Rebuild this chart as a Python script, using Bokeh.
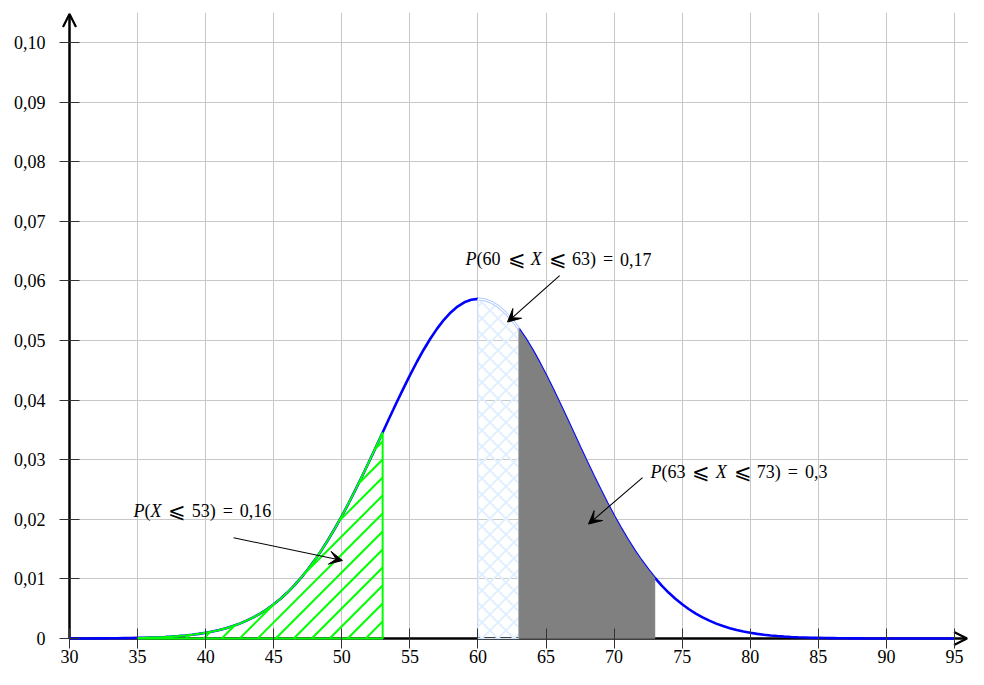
import numpy as np
from bokeh.plotting import figure
from bokeh.models import FixedTicker, Arrow, VeeHead, OpenHead
from bokeh.core.properties import value
from bokeh.embed import file_html
from bokeh.resources import INLINE

# ---- data (x every 0.5 from 30 to 95) ----
x_vals = [30 + 0.5 * i for i in range(131)]
density = [
    0.00000, 0.00000, 0.00001, 0.00001, 0.00002, 0.00002, 0.00003, 0.00004, 0.00006, 0.00008,  # 30-34.5
    0.00010, 0.00012, 0.00016, 0.00020, 0.00026, 0.00033, 0.00041, 0.00051, 0.00063, 0.00078,  # 35-39.5
    0.00096, 0.00118, 0.00143, 0.00173, 0.00209, 0.00250, 0.00299, 0.00354, 0.00418, 0.00491,  # 40-44.5
    0.00574, 0.00667, 0.00771, 0.00887, 0.01016, 0.01157, 0.01311, 0.01478, 0.01658, 0.01850,  # 45-49.5
    0.02054, 0.02269, 0.02494, 0.02727, 0.02966, 0.03210, 0.03457, 0.03703, 0.03947, 0.04185,  # 50-54.5
    0.04416, 0.04635, 0.04841, 0.05029, 0.05199, 0.05347, 0.05471, 0.05570, 0.05641, 0.05684,  # 55-59.5
    0.05699, 0.05684, 0.05641, 0.05570, 0.05471, 0.05347, 0.05199, 0.05029, 0.04841, 0.04635,  # 60-64.5
    0.04416, 0.04185, 0.03947, 0.03703, 0.03457, 0.03210, 0.02966, 0.02727, 0.02494, 0.02269,  # 65-69.5
    0.02054, 0.01850, 0.01658, 0.01478, 0.01311, 0.01157, 0.01016, 0.00887, 0.00771, 0.00667,  # 70-74.5
    0.00574, 0.00491, 0.00418, 0.00354, 0.00299, 0.00250, 0.00209, 0.00173, 0.00143, 0.00118,  # 75-79.5
    0.00096, 0.00078, 0.00063, 0.00051, 0.00041, 0.00033, 0.00026, 0.00020, 0.00016, 0.00012,  # 80-84.5
    0.00010, 0.00008, 0.00006, 0.00004, 0.00003, 0.00002, 0.00002, 0.00001, 0.00001, 0.00000,  # 85-89.5
    0.00000, 0.00000, 0.00000, 0.00000, 0.00000, 0.00000, 0.00000, 0.00000, 0.00000, 0.00000,  # 90-94.5
    0.00000,  # 95
]

x_ticks = [30, 35, 40, 45, 50, 55, 60, 65, 70, 75, 80, 85, 90, 95]
x_tick_labels = ["30", "35", "40", "45", "50", "55", "60", "65", "70", "75", "80", "85", "90", "95"]
y_ticks = [0, 0.01, 0.02, 0.03, 0.04, 0.05, 0.06, 0.07, 0.08, 0.09, 0.10]
y_tick_labels = ["0", "0,01", "0,02", "0,03", "0,04", "0,05", "0,06", "0,07", "0,08", "0,09", "0,10"]

region_low = (35, 53)    # P(X <= 53)
region_mid = (60, 63)    # P(60 <= X <= 63)
region_high = (63, 73)   # P(63 <= X <= 73)

# annotation texts (P and X are set in italics)
label_texts = ["P(60 ⩽ X ⩽ 63) = 0,17", "P(63 ⩽ X ⩽ 73) = 0,3", "P(X ⩽ 53) = 0,16"]
label_x = [59.09, 72.67, 34.70]
label_y = [0.0636, 0.0280, 0.0214]
arrow_start = [(66.0, 0.0609), (72.09, 0.0270), (42.05, 0.0169)]
arrow_end = [(62.17, 0.0531), (68.12, 0.0192), (50.05, 0.0131)]

# ---- layout ----
W, H = 968, 669
AX_LEFT = 69             # pixel of x = 30
AX_ZERO = 638            # pixel of y = 0
Y10 = 42                 # pixel of y = 0.10
TOP = 12
PAD = 8                  # frame extends PAD px past the axes (left / below)
PX_X = 13.615            # pixels per x unit
PX_Y = (AX_ZERO - Y10) / 0.10

X_START = 30 - PAD / PX_X
X_END = 30 + (W - AX_LEFT) / PX_X
Y_START = -PAD / PX_Y
Y_END = (AX_ZERO - TOP) / PX_Y

SERIF = "Liberation Serif"
FS = 18

p = figure(width=W, height=H, output_backend="svg", toolbar_location=None,
           x_range=(X_START, X_END), y_range=(Y_START, Y_END),
           min_border_left=AX_LEFT - PAD, min_border_right=0, min_border_top=TOP,
           min_border_bottom=H - (AX_ZERO + PAD))
p.outline_line_color = None
p.background_fill_color = "white"
p.border_fill_color = "white"

for ax, ticks, labels in ((p.xaxis[0], x_ticks, x_tick_labels), (p.yaxis[0], y_ticks, y_tick_labels)):
    ax.ticker = FixedTicker(ticks=ticks)
    ax.major_label_overrides = dict(zip(ticks, labels))
    ax.axis_line_color = None
    ax.major_tick_line_color = "#333333"
    ax.major_tick_line_width = 1
    ax.major_tick_in = PAD + 10     # ticks cross the drawn axis line by +-10 px
    ax.major_tick_out = 10 - PAD
    ax.minor_tick_line_color = None
    ax.major_label_text_font = SERIF
    ax.major_label_text_font_size = f"{FS}px"
    ax.major_label_text_color = "black"
p.xaxis.major_label_standoff = 1
p.yaxis.major_label_standoff = 14

p.grid.grid_line_color = "#c8c8c8"
p.grid.grid_line_width = 1

# axes with arrow heads (under the curve)
p.add_layout(Arrow(x_start=30, y_start=0, x_end=30, y_end=Y_END - 1.5 / PX_Y, line_width=2.5,
                   line_color="black", level="underlay",
                   end=OpenHead(size=13, line_width=2.2, line_color="black")))
p.add_layout(Arrow(x_start=30, y_start=0, x_end=X_END - 1.5 / PX_X, y_end=0, line_width=2.5,
                   line_color="black", level="underlay",
                   end=OpenHead(size=13, line_width=2.2, line_color="black")))


def pick(a, b):
    xs = [x for x in x_vals if a <= x <= b]
    ys = [density[x_vals.index(x)] for x in xs]
    return xs, ys


def region(a, b):
    xs, ys = pick(a, b)
    return [a] + xs + [b], [0] + ys + [0], xs, ys


def hatch(a, b, sign, spacing_px, phase_x):
    """45-degree (in pixels) hatch lines clipped to the area under the curve on [a, b]."""
    k = PX_X / PX_Y
    step = spacing_px / PX_X
    xs_fine = np.linspace(a, b, 1500)
    top = np.interp(xs_fine, x_vals, density)
    reach = float(top.max()) / k
    lo, hi = (a - reach, b) if sign > 0 else (a, b + reach)
    n0 = int(np.floor((lo - phase_x) / step)) - 1
    n1 = int(np.ceil((hi - phase_x) / step)) + 1
    segx, segy = [], []
    for n in range(n0, n1 + 1):
        x0 = phase_x + n * step
        yl = sign * k * (xs_fine - x0)
        idx = np.flatnonzero((yl >= 0) & (yl <= top))
        if idx.size < 2:
            continue
        breaks = np.flatnonzero(np.diff(idx) > 1)
        starts = np.concatenate(([idx[0]], idx[breaks + 1]))
        ends = np.concatenate((idx[breaks], [idx[-1]]))
        for s, e in zip(starts, ends):
            if e > s:
                segx.append([float(xs_fine[s]), float(xs_fine[e])])
                segy.append([float(yl[s]), float(yl[e])])
    return segx, segy


# blue curve (not drawn over the light-blue band)
xl, yl_ = pick(x_vals[0], region_mid[0])
xr, yr_ = pick(region_mid[1], x_vals[-1])
p.line(xl, yl_, line_color="#0000ff", line_width=2.6)
p.line(xr, yr_, line_color="#0000ff", line_width=2.6)

# green hatched region
gx, gy, _, _ = region(*region_low)
hx_, hy_ = hatch(region_low[0], region_low[1], +1, 18, region_low[1] - 17 / PX_X)
p.multi_line(hx_, hy_, line_color="#00ff00", line_width=2)
p.patch(gx, gy, fill_color=None, line_color="#00ff00", line_width=2)

# light blue cross-hatched region
mx, my, mcx, mcy = region(*region_mid)
for sgn in (+1, -1):
    cx_, cy_ = hatch(region_mid[0], region_mid[1], sgn, 16, region_mid[0] + 4 / PX_X)
    p.multi_line(cx_, cy_, line_color="#e2efff", line_width=2)
p.patch(mx, my, fill_color=None, line_color="#d6e7ff", line_width=1)
p.line(mcx, mcy, line_color="#a8c6ff", line_width=3)
p.line(mcx, mcy, line_color="white", line_width=1.3)

# gray region
gx2, gy2, _, _ = region(*region_high)
p.patch(gx2, gy2, fill_color="#808080", line_color="#808080", line_width=0.5)

# annotation arrows
for (xs0, ys0), (xe0, ye0) in zip(arrow_start, arrow_end):
    p.add_layout(Arrow(x_start=xs0, y_start=ys0, x_end=xe0, y_end=ye0, line_width=1.1,
                       line_color="black",
                       end=VeeHead(size=13, fill_color="black", line_color="black", line_width=1)))

# annotation texts: words laid out one by one (math-like spacing, italic variables)
EM = {"(": 0.333, ")": 0.333, ",": 0.25, "=": 0.564, "⩽": 0.9, "P": 0.611, "X": 0.611}
GAP = 7.0
ITALIC = {"P", "X"}
REL_SCALE = 1.15          # the relation sign comes from a fallback font: draw it a bit larger
REL_SHIFT = 0.0


def tokens(word):
    """split a word into runs of italic letters and upright text"""
    out, cur, cur_it = [], "", None
    for c in word:
        it = c in ITALIC
        if cur and it != cur_it:
            out.append((cur, cur_it))
            cur = ""
        cur += c
        cur_it = it
    if cur:
        out.append((cur, cur_it))
    return out


for txt, lx, ly in zip(label_texts, label_x, label_y):
    off = 0.0
    for wi, word in enumerate(txt.split(" ")):
        if wi:
            off += GAP
        for run, it in tokens(word):
            rel = run == "⩽"
            p.text(x=[lx], y=[ly], text=[run], x_offset=off + (REL_SHIFT if rel else 0),
                   text_font=value(SERIF), text_font_size=f"{FS * REL_SCALE if rel else FS}px",
                   text_font_style="italic" if it else "normal",
                   text_color="black", text_align="left", text_baseline="middle")
            off += sum(EM.get(c, 0.5) for c in run) * FS

open("out.html", "w").write(file_html(p, INLINE))
